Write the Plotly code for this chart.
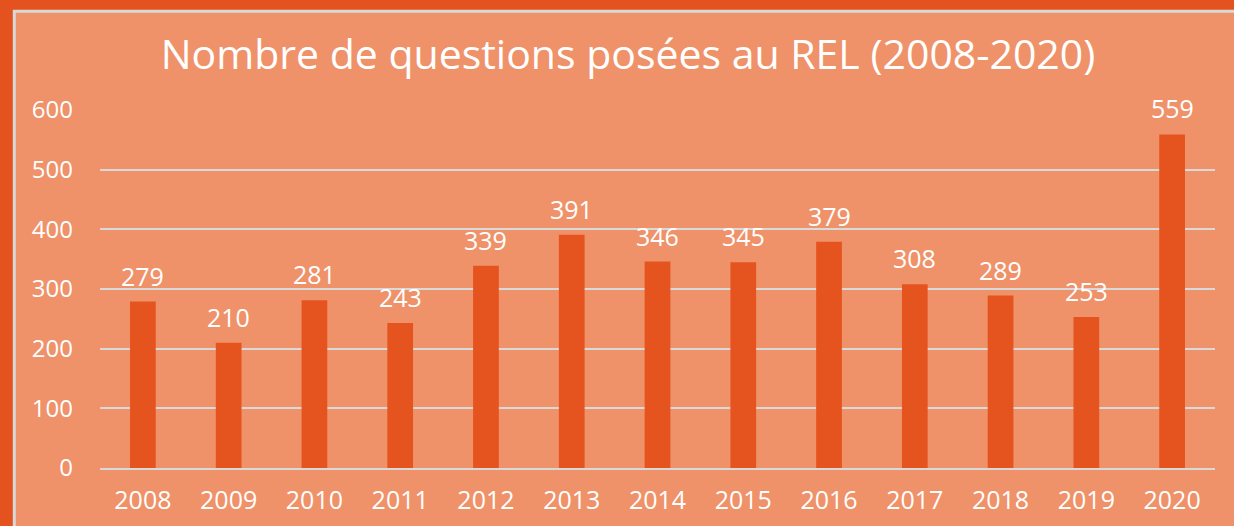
import plotly.graph_objects as go

years = ["2008", "2009", "2010", "2011", "2012", "2013", "2014", "2015", "2016", "2017", "2018", "2019", "2020"]
questions = [279, 210, 281, 243, 339, 391, 346, 345, 379, 308, 289, 253, 559]
y_ticks = [0, 100, 200, 300, 400, 500, 600]

OUTER = "#E4531F"
PANEL = "#EF9269"
BAR = "#E5541F"
GRID = "#D9D9D9"
FONT = "Open Sans"

W, H = 1234, 526
ML, MR, MT, MB = 100, 19, 110, 58
PW, PH = W - ML - MR, H - MT - MB

def px_x(p):
    return (p - ML) / PW

def px_y(p):
    return (H - MB - p) / PH

fig = go.Figure()
fig.add_trace(go.Bar(x=years, y=questions, marker=dict(color=BAR, line=dict(width=0)),
                     width=0.3, hoverinfo="x+y"))

for i, v in enumerate(questions):
    fig.add_annotation(x=i, y=v, text=str(v), showarrow=False, yanchor="bottom",
                       yshift=7, font=dict(family=FONT, size=25, color="white"))

fig.add_shape(type="rect", xref="paper", yref="paper",
              x0=px_x(14.3), x1=px_x(1240), y0=px_y(532), y1=px_y(11.3),
              fillcolor=PANEL, line=dict(color="#D8D8D8", width=3), layer="below")

fig.update_layout(
    width=W, height=H,
    margin=dict(l=ML, r=MR, t=MT, b=MB, autoexpand=False),
    paper_bgcolor=OUTER,
    plot_bgcolor="rgba(0,0,0,0)",
    showlegend=False,
    title=dict(text="Nombre de questions posées au REL (2008-2020)",
               x=628 / W, xanchor="center", y=1 - 55 / H, yanchor="middle",
               font=dict(family=FONT, size=41, color="white")),
    xaxis=dict(type="category", range=[-0.5, len(years) - 0.5], showgrid=False,
               automargin=False, showline=True, linecolor=GRID, linewidth=2,
               ticks="", tickfont=dict(family=FONT, size=25, color="white"),
               ticklabelstandoff=9),
    yaxis=dict(range=[0, 600], tickvals=y_ticks, showgrid=True, gridcolor=GRID,
               automargin=False, gridwidth=2, zeroline=False, showline=False, ticks="",
               tickfont=dict(family=FONT, size=24, color="white"),
               ticklabelstandoff=26),
)

fig.write_html("out.html",
               config={"displayModeBar": False},
               post_script="document.body.style.margin='0';document.body.style.background='#E4531F';")
